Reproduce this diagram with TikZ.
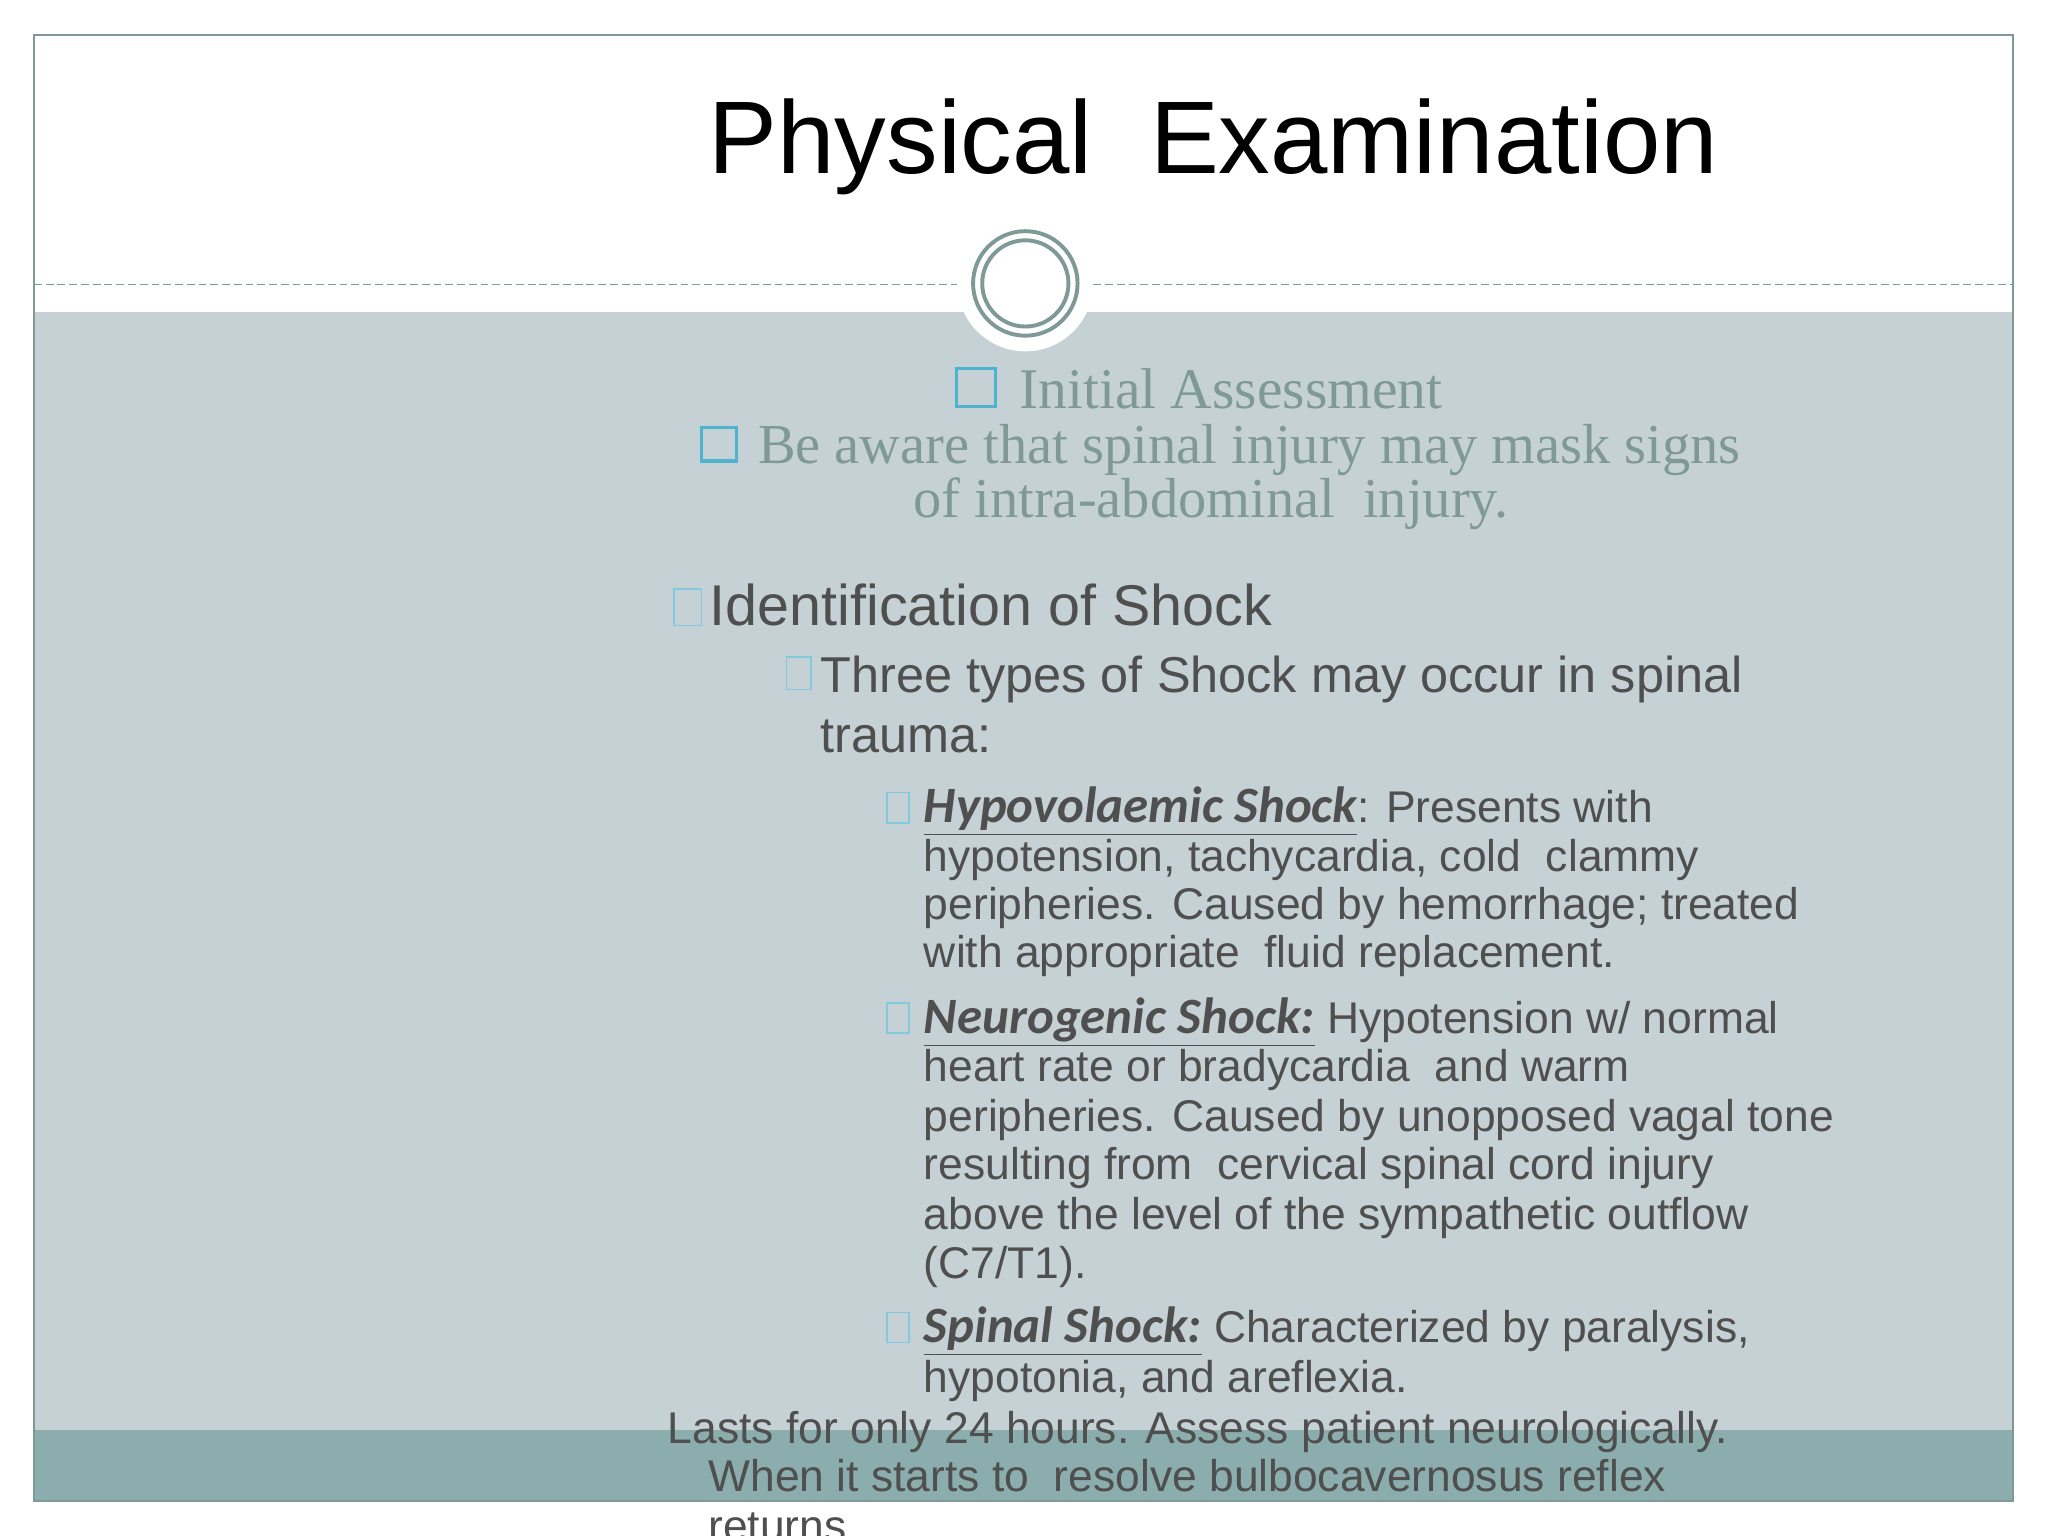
\documentclass[tikz,border=0pt]{standalone}
\usepackage{fontspec}
\setmainfont{Liberation Sans}
\newfontfamily\serf{Liberation Serif}
\newfontfamily\carl{Carlito}
\newcommand\hdf[1]{{\carl\bfseries\itshape\fontsize{19.5}{20}\selectfont\underline{#1}}}
\definecolor{band}{HTML}{C5D1D4}
\definecolor{foot}{HTML}{8BADAD}
\definecolor{frm}{HTML}{7F9A96}
\definecolor{txt}{HTML}{4F4F4F}
\definecolor{cy}{HTML}{4DB3CF}
\begin{document}
\begin{tikzpicture}[x=0.5pt,y=-0.5pt,
 t/.style={anchor=base west,inner sep=0pt,text=txt},
 body/.style={t,font=\fontsize{17}{18}\selectfont},
 sbox/.style={draw=cy!70,line width=0.5pt},
 bbox/.style={draw=cy,line width=1.2pt}]
\useasboundingbox (0,0) rectangle (1568,1176);
\fill[white] (0,0) rectangle (1568,1176);
\fill[band] (26,239) rectangle (1541,1095);
\fill[foot] (26,1095) rectangle (1541,1149);
\draw[frm,line width=0.6pt] (26,27) rectangle (1541,1149);
\draw[frm,line width=0.5pt,dash pattern=on 3pt off 1.5pt] (26,218) -- (733,218);
\draw[frm,line width=0.5pt,dash pattern=on 3pt off 1.5pt] (837,218) -- (1541,218);
\fill[white] (785,217) circle (52);
\draw[frm,line width=1.5pt] (785,217) circle (40);
\draw[frm,line width=1.5pt] (785,217) circle (33);
\node[anchor=base,inner sep=0pt,font=\fontsize{39.5}{44}\selectfont] (title) at (929,133) {Physical\ \ Examination};
% serif section
\draw[bbox] (732,282) rectangle (762,311);
\node[t,text=frm,font=\serf\fontsize{22}{24}\selectfont] (ia) at (780,313) {Initial Assessment};
\draw[bbox] (537,327) rectangle (564,353);
\node[t,text=frm,font=\serf\fontsize{21.6}{24}\selectfont] (ba) at (580,355) {Be aware that spinal injury may mask signs};
\node[t,text=frm,font=\serf\fontsize{21.6}{24}\selectfont] (bb) at (699,396) {of intra-abdominal\ \ injury.};
% sans
\draw[sbox] (516,451) rectangle (537,479);
\node[t,font=\fontsize{22}{24}\selectfont] (id) at (543,479) {Identification of Shock};
\draw[sbox] (602,503) rectangle (621,528);
\node[t,font=\fontsize{19.3}{21}\selectfont] (tt) at (628,530) {Three types of Shock may occur in spinal};
\node[t,font=\fontsize{19.3}{21}\selectfont] (tt2) at (628,576) {trauma:};
\draw[sbox] (679,607) rectangle (696,630);
\node[body] (h1) at (707,630) {\hdf{Hypovolaemic Shock}: Presents with};
\node[body] (h2) at (707,667) {hypotension, tachycardia, cold\ \ clammy};
\node[body] (h3) at (707,704) {peripheries. Caused by hemorrhage; treated};
\node[body] (h4) at (707,741) {with appropriate\ \ fluid replacement.};
\draw[sbox] (679,768) rectangle (696,791);
\node[body] (n1) at (707,791) {\hdf{Neurogenic Shock:} Hypotension w/ normal};
\node[body] (n2) at (707,828) {heart rate or bradycardia\ \ and warm};
\node[body] (n3) at (707,866) {peripheries. Caused by unopposed vagal tone};
\node[body] (n4) at (707,903) {resulting from\ \ cervical spinal cord injury};
\node[body] (n5) at (707,941) {above the level of the sympathetic outflow};
\node[body] (n6) at (707,979) {(C7/T1).};
\draw[sbox] (679,1005) rectangle (696,1028);
\node[body] (s1) at (707,1028) {\hdf{Spinal Shock:} Characterized by paralysis,};
\node[body] (s2) at (707,1066) {hypotonia, and areflexia.};
\node[body] (s3) at (511,1105) {Lasts for only 24 hours. Assess patient neurologically.};
\node[body] (s4) at (542,1142) {When it starts to\ \ resolve bulbocavernosus reflex};
\node[body] (s5) at (542,1180) {returns.};
\end{tikzpicture}
\end{document}
